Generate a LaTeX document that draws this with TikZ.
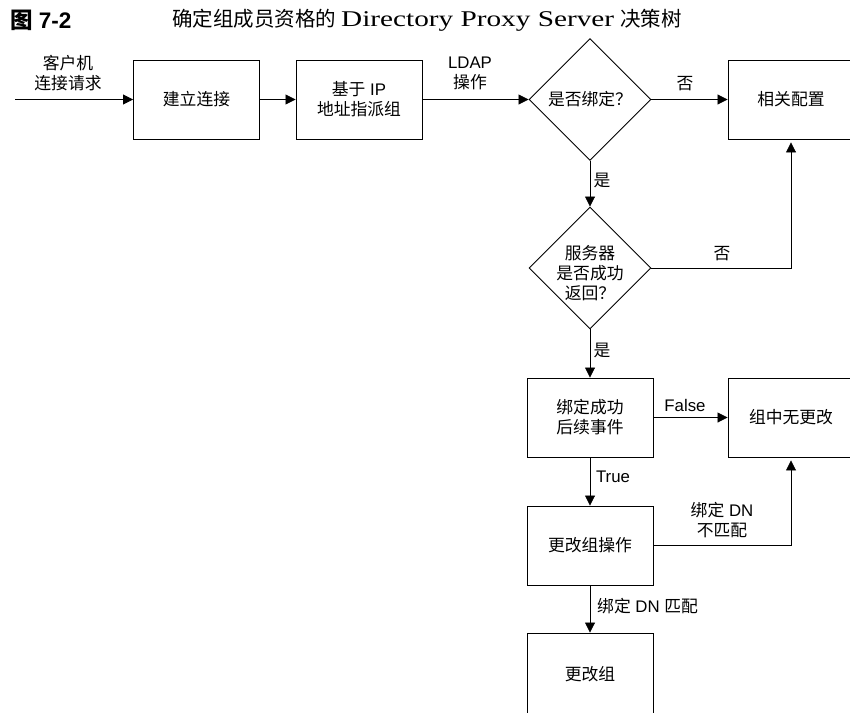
\documentclass[tikz,border=0pt]{standalone}
\usepackage{fontspec}
\usetikzlibrary{arrows.meta,shapes.geometric}
\setmainfont{Liberation Sans}
\newfontfamily\cjk{Noto Sans CJK SC}
\newfontfamily\serifz{Liberation Serif}
\newcommand\lbl{\fontsize{16.8}{20}\selectfont}
\tikzset{
  stepbox/.style={draw, line width=0.9pt, minimum width=126pt, minimum height=79pt, inner sep=0pt, align=center, font=\lbl},
  decision/.style={draw, diamond, line width=0.9pt, minimum width=122pt, minimum height=122pt, inner sep=0pt},
  txt/.style={align=center, inner sep=0pt, font=\lbl},
  conn/.style={line width=0.8pt, -{Triangle[length=10pt,width=10pt]}},
  plain/.style={line width=0.8pt}
}
\begin{document}
\begin{tikzpicture}[x=1pt,y=-1pt]
\useasboundingbox (0,0) rectangle (850,712);
% title
\node[anchor=west, inner sep=0pt] (fig) at (10,20) {\fontsize{22.5}{24}\selectfont\bfseries{\cjk 图} 7-2};
\node[anchor=west, inner sep=0pt] (title) at (172,20) {\fontsize{20.5}{24}\selectfont{\cjk 确定组成员资格的}\hspace{5pt}\raisebox{-0.5pt}{\scalebox{1.3}[1]{\fontsize{22.5}{24}\selectfont\serifz Directory Proxy Server}}\hspace{6pt}{\cjk 决策树}};
% nodes
\coordinate (start) at (15,99.5);
\node[stepbox] (b1) at (196.5,99.5) {\cjk 建立连接};
\node[stepbox] (b2) at (359,99.5) {{\cjk 基于} IP\\{\cjk 地址指派组}};
\node[decision] (d1) at (590,99.5) {};
\node[txt] (d1t) at (d1) {\cjk 是否绑定？};
\node[stepbox] (b3) at (791,99.5) {\cjk 相关配置};
\node[decision] (d2) at (590,268) {};
\node[txt] (d2t) at (590,273) {\cjk 服务器\\ \cjk 是否成功\\ \cjk 返回？};
\node[stepbox] (b4) at (590,417.5) {\cjk 绑定成功\\ \cjk 后续事件};
\node[stepbox] (b5) at (791,417.5) {\cjk 组中无更改};
\node[stepbox] (b6) at (590,545.5) {\cjk 更改组操作};
\node[stepbox, minimum height=83pt] (b7) at (590,674.5) {\raisebox{-2pt}{\cjk 更改组}};
% connectors
\draw[conn] (start) -- (b1.west);
\node[txt] (l0) at (68,73) {\cjk 客户机\\ \cjk 连接请求};
\draw[conn] (b1.east) -- (b2.west);
\draw[conn] (b2.east) -- (d1.west);
\node[txt] (l1) at (470,73) {LDAP\\ \cjk 操作};
\draw[conn] (d1.east) -- (b3.west);
\node[txt] (l2) at (685,84) {\cjk 否};
\draw[conn] (d1.south) -- (d2.north);
\node[txt] (l3) at (602,180) {\cjk 是};
\draw[conn, shorten >=3pt] (d2.east) -| (b3.south);
\node[txt] (l4) at (722,254) {\cjk 否};
\draw[conn] (d2.south) -- (b4.north);
\node[txt] (l5) at (602,350) {\cjk 是};
\draw[conn] (b4.east) -- (b5.west);
\node[txt] (l6) at (685,405) {False};
\draw[conn] (b4.south) -- (b6.north);
\node[txt] (l7) at (613,477) {True};
\draw[conn, shorten >=3pt] (b6.east) -| (b5.south);
\node[txt] (l8) at (722,520) {{\cjk 绑定} DN\\ \cjk 不匹配};
\draw[conn] (b6.south) -- (b7.north);
\node[txt, anchor=west] (l9) at (597,606) {{\cjk 绑定} DN {\cjk 匹配}};
\end{tikzpicture}
\end{document}
